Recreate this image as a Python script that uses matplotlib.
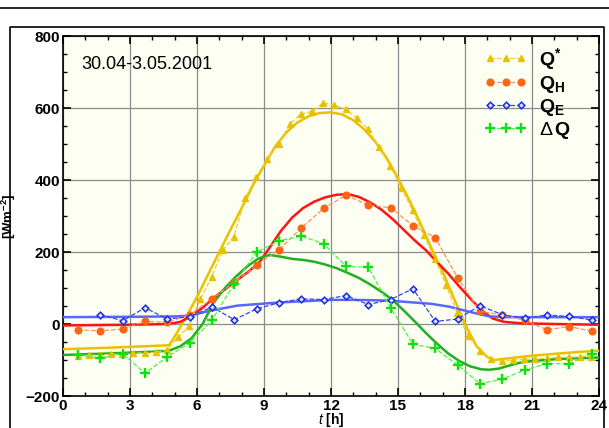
import numpy as np
import matplotlib
matplotlib.use("Agg")
import matplotlib.pyplot as plt
from matplotlib.lines import Line2D

plt.rcParams['font.family'] = ['Liberation Sans', 'DejaVu Sans']
plt.rcParams['mathtext.fontset'] = 'custom'
plt.rcParams['mathtext.rm'] = 'Liberation Sans'
plt.rcParams['mathtext.it'] = 'Liberation Sans:italic'
plt.rcParams['mathtext.bf'] = 'Liberation Sans:bold'

# measured values, half-hourly net radiation and hourly fluxes
t_half = np.arange(0.65, 23.7, 0.5)
q_star = [-88, -87, -86, -84, -82, -81, -80, -79, -72,
          -37, -6, 70, 130, 205, 242, 349, 409, 458, 500,
          555, 583, 591, 614, 607, 598, 572, 542, 491, 439,
          377, 316, 247, 181, 109, 30, -33, -74, -98, -102,
          -100, -98, -97, -95, -93, -93, -91, -91]

t_hour = np.arange(0.67, 24, 1.0)
q_h = [-16, -19, -14, 7, 5, 25, 70, 116, 163, 206, 267, 321,
       358, 330, 323, 273, 240, 128, 35, 25, 10, -16, -7, -20]
q_e = [np.nan, 26, 9, 45, 14, 20, 47, 12, 42, 59, 70, 68,
       79, 54, 68, 98, 7, 14, 51, 26, 16, 25, 21, 11]
d_q = [-86, -95, -82, -137, -91, -53, 11, 112, 200, 231, 244, 223,
       160, 158, 45, -56, -68, -114, -166, -153, -128, -110, -110, -82]

# fitted (smooth) curves
fit_qs_t = [0, 2, 4, 4.75, 5.0, 5.5, 6.0, 6.5, 7.0, 7.5, 8.0, 8.5, 9.0, 9.5,
            10.0, 10.5, 11.0, 11.5, 12.0, 12.5, 13.0, 13.5, 14.0, 14.5, 15.0,
            15.5, 16.0, 16.5, 17.0, 17.5, 18.0, 18.5, 19.0, 19.3, 20, 21, 22, 23, 24]
fit_qs = [-70, -66, -61, -59, -35, 18, 75, 138, 200, 262, 322, 385, 440, 493,
          532, 560, 577, 586, 588, 582, 566, 540, 505, 460, 405,
          345, 280, 210, 145, 72, 0, -60, -92, -100, -95, -88, -83, -78, -74]

fit_qh_t = [0, 3, 4.75, 5.25, 5.75, 6.25, 6.75, 7.25, 7.75, 8.25, 8.75, 9.25,
            9.75, 10.25, 10.75, 11.25, 11.75, 12.25, 12.75, 13.25, 13.75, 14.25,
            14.75, 15.25, 15.75, 16.25, 16.75, 17.25, 17.75, 18.25, 18.75, 19.25,
            19.75, 20.5, 22, 24]
fit_qh = [-4, -2, 0, 6, 22, 45, 73, 96, 120, 143, 168, 212,
          258, 295, 322, 340, 352, 359, 361, 353, 338, 318,
          292, 262, 232, 205, 172, 140, 104, 70, 37, 15,
          6, 2, 0, -2]

fit_qe_t = [0, 3, 5, 5.67, 6.6, 7.8, 9.7, 12, 13, 14.6, 16.5, 17.3, 18, 18.6,
            19.1, 20, 21, 24]
fit_qe = [19, 20, 21, 23, 37, 51, 60, 67, 67, 65, 56, 48, 37, 28,
          21, 19, 19, 19]

fit_dq_t = [0, 2, 4, 4.75, 5.25, 5.75, 6.25, 6.75, 7.25, 7.75, 8.25, 8.75, 9.25,
            9.75, 10.25, 10.75, 11.25, 11.75, 12.25, 12.75, 13.25, 13.75, 14.25,
            14.75, 15.25, 15.75, 16.25, 16.75, 17.25, 17.75, 18.25, 18.75, 19.1,
            19.5, 20.0, 20.5, 21, 22, 23, 24]
fit_dq = [-86, -82, -77, -74, -62, -40, 0, 60, 100, 132, 160, 182, 192,
          187, 181, 178, 173, 165, 155, 142, 128, 110, 90,
          67, 38, 7, -25, -55, -82, -103, -118, -126, -127,
          -124, -115, -107, -103, -98, -95, -93]

fig = plt.figure(figsize=(6.09, 4.28), dpi=100)
ax = fig.add_axes([63 / 609, 1 - 396 / 428, 536 / 609, 360 / 428])
ax.set_facecolor('#fcfff2')

yellow = '#e8c200'
ax.plot(fit_qs_t, fit_qs, color=yellow, lw=1.8, zorder=3)
ax.plot(fit_qh_t, fit_qh, color='#ff1414', lw=1.8, zorder=3)
ax.plot(fit_qe_t, fit_qe, color='#5a66ff', lw=1.8, zorder=3)
ax.plot(fit_dq_t, fit_dq, color='#20b020', lw=1.8, zorder=3)

h1, = ax.plot(t_half, q_star, ls='--', lw=0.9, color='#f0cc30', marker='^',
              ms=4.2, mfc=yellow, mec=yellow, zorder=4)
h2, = ax.plot(t_hour, q_h, ls='--', lw=0.9, color='#ff9060', marker='o',
              ms=4.8, mfc='#ff6414', mec='#ff6414', zorder=4)
h3, = ax.plot(t_hour, q_e, ls='--', lw=0.9, color='#3848ee', marker='D',
              ms=3.4, mfc='#dde2ff', mec='#1a2ae0', mew=1.1, zorder=4)
h4, = ax.plot(t_hour, d_q, ls='--', lw=0.9, color='#50f050', marker='+',
              ms=6.5, mec='#10e010', mew=1.7, zorder=4)

ax.set_xlim(0, 24)
ax.set_ylim(-200, 800)
ax.set_xticks(range(0, 25, 3))
ax.set_xticks(range(0, 25, 1), minor=True)
ax.set_yticks(range(-200, 801, 200))
ax.set_yticks(range(-200, 801, 50), minor=True)
ax.grid(True, which='major', color='#8c8c8c', lw=0.9)
ax.set_axisbelow(True)
ax.tick_params(which='both', direction='in', top=True, right=True,
               labelsize=11, pad=2)
ax.tick_params(which='major', length=6, width=1.2)
ax.tick_params(which='minor', length=3, width=1)
for lab in ax.get_xticklabels() + ax.get_yticklabels():
    lab.set_fontweight('bold')
for s in ax.spines.values():
    s.set_linewidth(1.2)

ax.set_xlabel(r'$t$ [h]', fontsize=10, fontweight='bold', labelpad=-1)
ax.set_ylabel(r'[Wm$^{\mathbf{-2}}$]', fontsize=9.5, fontweight='bold', labelpad=6)

ax.text(0.035, 0.922, '30.04-3.05.2001', transform=ax.transAxes,
        fontsize=13, va='center', ha='left')

ax.legend([h1, h2, h3, h4],
          [r'$\mathbf{Q^{*}}$', r'$\mathbf{Q_{H}}$', r'$\mathbf{Q_{E}}$',
           r'$\Delta\,\mathbf{Q}$'],
          loc='upper right', bbox_to_anchor=(0.98, 1.02), frameon=False,
          fontsize=14, numpoints=3, handlelength=2.2, handletextpad=0.6,
          labelspacing=0.1)

# outer frame
fig.add_artist(Line2D([0, 1], [1 - 8 / 428, 1 - 8 / 428], color='black', lw=1.2))
fig.add_artist(Line2D([10 / 609, 10 / 609, 604 / 609, 604 / 609],
                      [0, 1 - 27 / 428, 1 - 27 / 428, 0], color='black', lw=1.2))

fig.savefig('out.png', dpi=100)
